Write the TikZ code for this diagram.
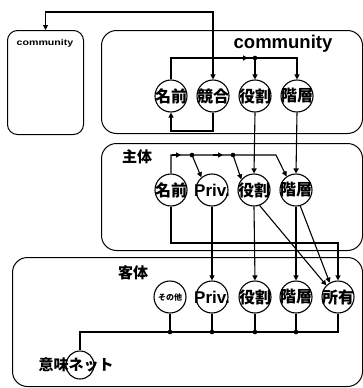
\documentclass[tikz,border=0pt]{standalone}
\usepackage{fontspec}
\setmainfont{Liberation Sans}
\newfontfamily\cjk{Noto Sans CJK JP}
\usetikzlibrary{arrows.meta,calc}
\begin{document}
\begin{tikzpicture}[x=1pt,y=-1pt,
  >={Triangle[length=5pt,width=5pt]},
  box/.style={draw, line width=1pt, rounded corners=12pt, anchor=north west, inner sep=0pt},
  jl/.style={font=\cjk\bfseries\fontsize{15}{15}\selectfont, inner sep=0pt},
  cj/.style={font=\cjk\bfseries\fontsize{16}{16}\selectfont, inner sep=0pt},
  cn/.style={draw, circle, line width=1.1pt, minimum size=32pt, inner sep=0pt},
  cl/.style={cn, label={[cj]center:#1}},
  wire/.style={line width=1.1pt},
  dot/.style={fill=black}]
\useasboundingbox (0,0) rectangle (363,388);

% boxes
\node[box, rounded corners=10pt, minimum width=76pt, minimum height=104pt] (lbox) at (7,30) {};
\node[box, rounded corners=15pt, minimum width=261pt, minimum height=103pt] (cbox) at (101,30) {};
\node[box, rounded corners=15pt, minimum width=261pt, minimum height=107pt] (sbox) at (101,143) {};
\node[box, rounded corners=15pt, minimum width=350pt, minimum height=129pt] (obox) at (12,257) {};

% box labels
\node[font=\bfseries\fontsize{8.5}{8.5}\selectfont, inner sep=0pt] (llab) at (45,43) {\scalebox{1.25}[1]{community}};
\node[font=\bfseries\fontsize{18.5}{18.5}\selectfont, inner sep=0pt] (clab) at (283,44) {community};
\node[jl] (slab) at (137,157) {主体};
\node[jl] (olab) at (133,273) {客体};

% community circles
\node[cl=名前] (tn) at (171,96) {};
\node[cl=競合] (tk) at (213,96) {};
\node[cl=役割] (tr) at (255,96) {};
\node[cl=階層] (th) at (297,96) {};

% subject circles
\node[cl=名前] (sn) at (171,190) {};
\node[cn, label={[font=\bfseries\fontsize{17}{17}\selectfont, inner sep=0pt]center:Priv.}] (sp) at (212,190) {};
\node[cl=役割] (sr) at (254,190) {};
\node[cl=階層] (sh) at (296,190) {};

% object circles
\node[cn, label={[font=\cjk\bfseries\fontsize{8}{8}\selectfont, inner sep=0pt]center:その他}] (oo) at (170,297) {};
\node[cn, label={[font=\bfseries\fontsize{17}{17}\selectfont, inner sep=0pt]center:Priv.}] (op) at (212,297) {};
\node[cl=役割] (or) at (255,297) {};
\node[cl=階層] (oh) at (296,297) {};
\node[cl=所有] (oy) at (338,297) {};

\node[cn, minimum size=28pt, label={[jl, xshift=-4pt]center:意味ネット}] (im) at (80,365) {};

% top connectors
\draw[wire,<->] (tk.north) |- (45,12) -| (lbox.north);
\draw[wire,->] (tn.north) |- (297,58) -- (th.north);
\draw[wire,->] (255,58) -- (tr.north);
\draw[wire,->] (238,58) -- (248,58);
\fill[dot] (255,58) circle (2.3pt);
\draw[wire,->] (tk.south) |- (171,131) -- (tn.south);
\draw[wire,->] (tr.south) -- (sr.north);
\draw[wire,->] (th.south) -- (sh.north);

% subject connectors
\draw[wire,->] (sn.north) |- (276,155) -- (sh.125);
\draw[wire,->] (172,155) -- (181,155);
\draw[wire,->] (213,155) -- (223,155);
\fill[dot] (192,155) circle (2.3pt);
\fill[dot] (233,155) circle (2.3pt);
\draw[wire,->] (192,155) -- (sp.130);
\draw[wire,->] (233,155) -- (sr.140);

\coordinate (k1) at (338,243);
\draw[wire,->] (sn.south) |- (k1) -- (oy.north);
\draw[wire,->] (sp.south) -- (op.north);
\draw[wire,->] (sr.south) -- (or.north);
\draw[wire,->] (sh.south) -- (oh.north);
\draw[wire,->] (sr.-70) -- (oy.135);
\draw[wire,->] (sh.-75) -- (oy.120);

% object connectors
\coordinate (b0) at (80,332);
\draw[wire] (oy.south) |- (b0) -- (im.north);
\foreach \n in {oo,op,or,oh} {
  \draw[wire] (\n.south) -- (\n.south |- b0);
  \fill[dot] (\n.south |- b0) circle (2.3pt);
}
\end{tikzpicture}
\end{document}
